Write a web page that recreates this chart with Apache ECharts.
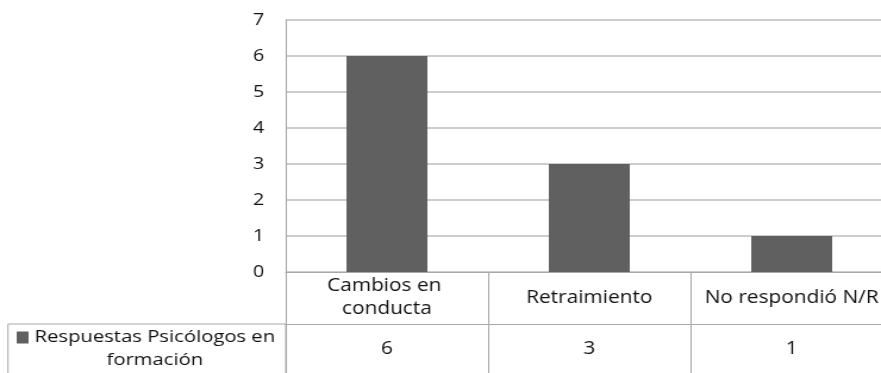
<!DOCTYPE html>
<html>
<head>
<meta charset="utf-8">
<script src="https://cdn.jsdelivr.net/npm/echarts@6/dist/echarts.min.js"></script>
<style>
  html, body { margin: 0; padding: 0; background: #fff; overflow: hidden; }
  /* The chart is laid out on a narrower canvas and widened to the window. */
  #chart { width: 740px; height: 373px; transform: scaleX(1.1905); transform-origin: 0 0; }
</style>
</head>
<body>
<div id="chart"></div>
<script>
// Chart data
const categories = ['Cambios en conducta', 'Retraimiento', 'No respondió N/R'];
const seriesName = 'Respuestas Psicólogos en formación';
const values = [6, 3, 1];
const yMin = 0;
const yMax = 7;
const yStep = 1;

const FONT = '"Open Sans", "Noto Sans", sans-serif';
const TEXT = '#111111';
const LINE = '#a8a8a8';
const BAR = '#606060';

// Split the series name into two lines for the data-table key cell
const cut = seriesName.lastIndexOf(' ');
const keyLine1 = seriesName.slice(0, cut);
const keyLine2 = seriesName.slice(cut + 1);

const chart = echarts.init(document.getElementById('chart'), null, { renderer: 'canvas' });

chart.setOption({
  animation: false,
  backgroundColor: '#fff',
  textStyle: { fontFamily: FONT },
  // The plot runs past the right edge of the canvas
  grid: { left: 240, width: 510, top: 20, height: 252, containLabel: false, outerBoundsMode: 'none' },
  legend: {
    data: [seriesName],
    left: 14,
    top: 303,
    padding: 0,
    icon: 'rect',
    itemWidth: 10,
    itemHeight: 12,
    itemStyle: { color: BAR },
    formatter: () => '\n{a|' + keyLine1 + '}\n{b|' + keyLine2 + '}',
    textStyle: {
      fontFamily: FONT, fontSize: 17, color: TEXT, lineHeight: 23,
      rich: {
        a: { fontFamily: FONT, fontSize: 17, color: TEXT, lineHeight: 23, align: 'center' },
        b: { fontFamily: FONT, fontSize: 17, color: TEXT, lineHeight: 23, align: 'center' }
      }
    }
  },
  xAxis: [
    {
      type: 'category',
      data: categories,
      boundaryGap: true,
      axisLine: { show: true, lineStyle: { color: LINE, width: 1 } },
      axisTick: { show: true, interval: 0, length: 110, lineStyle: { color: LINE, width: 1 } },
      axisLabel: {
        interval: 0, margin: 26, verticalAlign: 'middle',
        fontFamily: FONT, fontSize: 17.5, color: TEXT, lineHeight: 23,
        width: 162, overflow: 'break', align: 'center'
      },
      splitLine: { show: false }
    },
    {
      // Value row of the data table
      type: 'category',
      data: categories,
      position: 'bottom',
      offset: 52,
      axisLine: { show: true, lineStyle: { color: LINE, width: 1 } },
      axisTick: { show: false },
      axisLabel: {
        interval: 0, margin: 25, verticalAlign: 'middle',
        fontFamily: FONT, fontSize: 17.5, color: TEXT,
        formatter: (name, idx) => String(values[idx])
      },
      splitLine: { show: false }
    }
  ],
  yAxis: {
    type: 'value',
    min: yMin,
    max: yMax,
    interval: yStep,
    axisLine: { show: true, lineStyle: { color: LINE, width: 1 } },
    axisTick: { show: false },
    axisLabel: { margin: 18, fontFamily: FONT, fontSize: 16.5, color: TEXT },
    splitLine: { show: true, lineStyle: { color: '#bdbdbd', width: 1.5 } }
  },
  series: [{
    name: seriesName,
    type: 'bar',
    xAxisIndex: 0,
    data: values,
    barWidth: '40%',
    itemStyle: { color: BAR }
  }],
  graphic: [{
    // Border of the key cell in the data table
    type: 'rect',
    silent: true,
    shape: { x: 6.7, y: 324, width: 233.3, height: 80 },
    style: { fill: 'none', stroke: LINE, lineWidth: 1 }
  }]
});
</script>
</body>
</html>
